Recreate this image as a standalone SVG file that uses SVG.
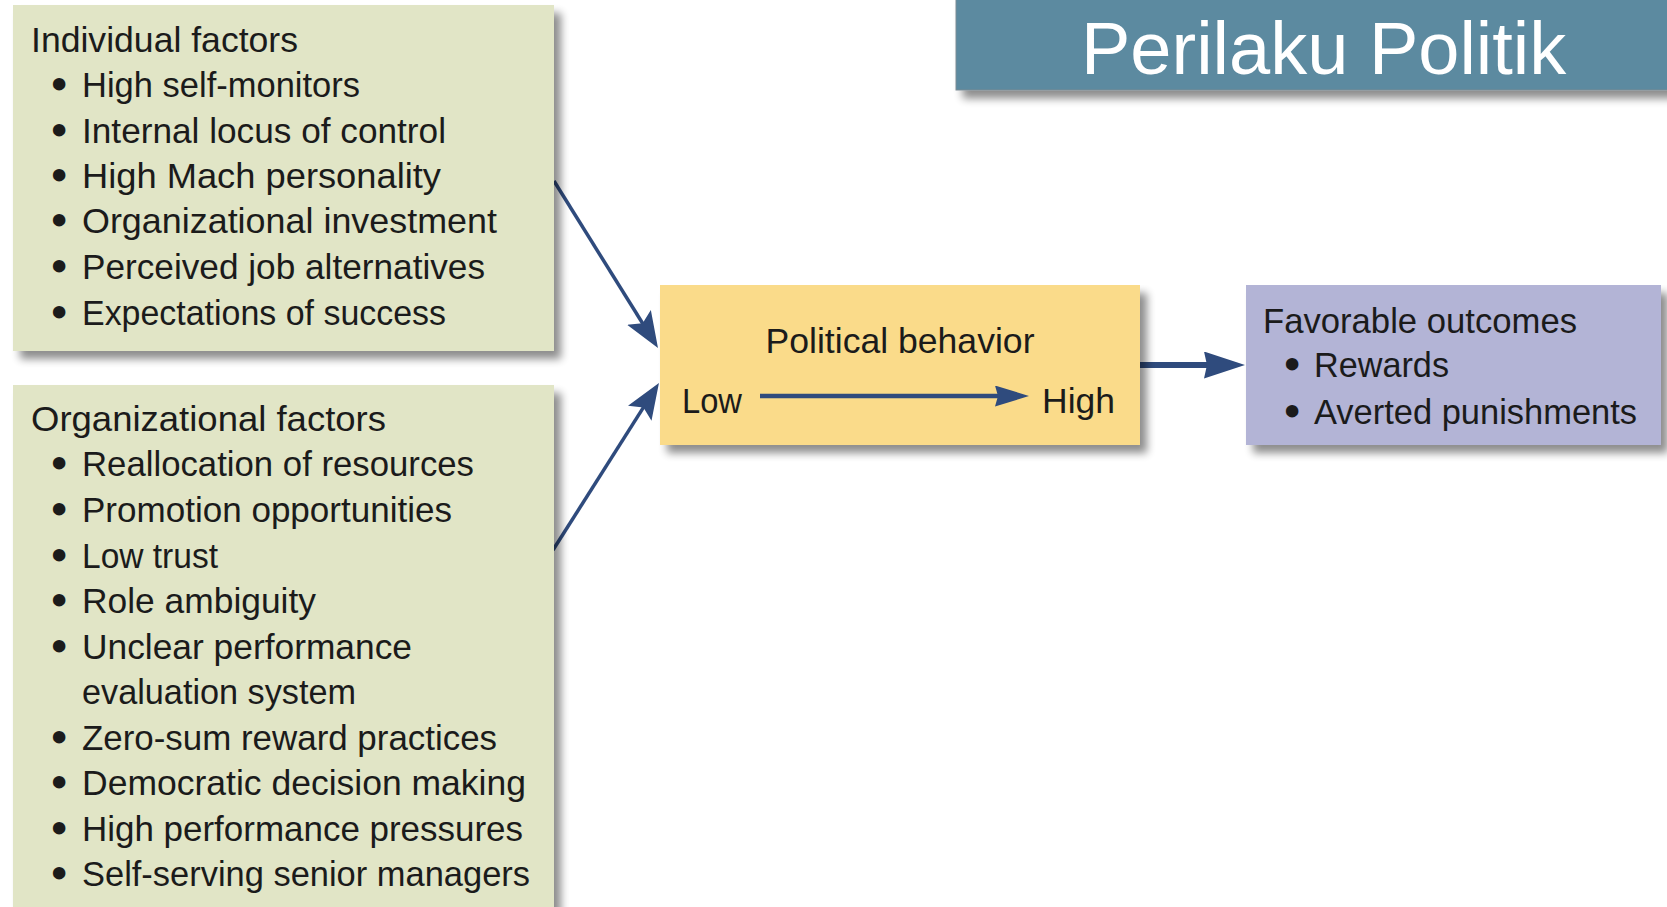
<svg xmlns="http://www.w3.org/2000/svg" width="1667" height="907" viewBox="0 0 1667 907">
  <style>
    .lbl { font-family: "Liberation Sans", Arial, sans-serif; font-size: 35px; fill: #1b1b1b; }
    .dot { font-family: "Liberation Sans", Arial, sans-serif; font-size: 35px; fill: #1b1b1b; stroke: #1b1b1b; stroke-width: 3; stroke-linejoin: round; }
    .title { font-family: "Liberation Sans", Arial, sans-serif; font-size: 74px; fill: #ffffff; }
    .factor { fill: #E1E5C6; }
    .behav { fill: #FADB8A; }
    .outcome { fill: #B3B4D6; }
    .link { stroke: #2F4B7D; fill: none; }
  </style>
  <defs>
    <filter id="shadow" x="-5%" y="-5%" width="115%" height="125%">
      <feGaussianBlur in="SourceAlpha" stdDeviation="4"/>
      <feOffset dx="7" dy="8"/>
      <feComponentTransfer><feFuncA type="linear" slope="0.45"/></feComponentTransfer>
      <feMerge><feMergeNode/><feMergeNode in="SourceGraphic"/></feMerge>
    </filter>
    <marker id="headIn" viewBox="0 0 36 28" refX="26" refY="14" markerWidth="36" markerHeight="28" markerUnits="userSpaceOnUse" orient="auto">
      <path d="M0,0 L36,14 L0,28 L7,14 Z" fill="#2F4B7D"/>
    </marker>
    <marker id="headOut" viewBox="0 0 41 27" refX="31" refY="13.5" markerWidth="41" markerHeight="27" markerUnits="userSpaceOnUse" orient="auto">
      <path d="M0,0 L41,13.5 L0,27 L3,13.5 Z" fill="#2F4B7D"/>
    </marker>
    <marker id="headScale" viewBox="0 0 34 21" refX="24" refY="10.5" markerWidth="34" markerHeight="21" markerUnits="userSpaceOnUse" orient="auto">
      <path d="M0,0 L34,10.5 L0,21 L3,10.5 Z" fill="#2F4B7D"/>
    </marker>
  </defs>

  <rect width="1667" height="907" fill="#ffffff"/>

  <!-- heading banner -->
  <g id="banner">
    <rect x="956" y="-5" width="720" height="95" fill="#5B8AA0" stroke="#7d8b93" stroke-width="1" filter="url(#shadow)"/>
    <text class="title" x="1081" y="74">Perilaku Politik</text>
  </g>

  <!-- connectors -->
  <g id="connectors">
    <line class="link" x1="554" y1="181" x2="652.7" y2="339.5" stroke-width="3.5" marker-end="url(#headIn)"/>
    <line class="link" x1="553" y1="550" x2="653.6" y2="391.4" stroke-width="3.5" marker-end="url(#headIn)"/>
    <line class="link" x1="1140" y1="365" x2="1235" y2="365" stroke-width="6" marker-end="url(#headOut)"/>
  </g>

  <!-- bullet lists: dot glyph at x=53, item text at x=82 -->
  <g id="individual-factors">
    <rect class="factor" x="13" y="5" width="541" height="346" filter="url(#shadow)"/>
    <text class="lbl" x="31" y="52" textLength="267" lengthAdjust="spacingAndGlyphs">Individual factors</text>
    <text class="dot" x="53" y="96">•</text>
    <text class="lbl" x="82" y="97" textLength="278" lengthAdjust="spacingAndGlyphs">High self-monitors</text>
    <text class="dot" x="53" y="142">•</text>
    <text class="lbl" x="82" y="143" textLength="364" lengthAdjust="spacingAndGlyphs">Internal locus of control</text>
    <text class="dot" x="53" y="187">•</text>
    <text class="lbl" x="82" y="188" textLength="359" lengthAdjust="spacingAndGlyphs">High Mach personality</text>
    <text class="dot" x="53" y="232">•</text>
    <text class="lbl" x="82" y="233" textLength="415" lengthAdjust="spacingAndGlyphs">Organizational investment</text>
    <text class="dot" x="53" y="278">•</text>
    <text class="lbl" x="82" y="279" textLength="403" lengthAdjust="spacingAndGlyphs">Perceived job alternatives</text>
    <text class="dot" x="53" y="324">•</text>
    <text class="lbl" x="82" y="325" textLength="364" lengthAdjust="spacingAndGlyphs">Expectations of success</text>
  </g>

  <g id="organizational-factors">
    <rect class="factor" x="13" y="385" width="541" height="540" filter="url(#shadow)"/>
    <text class="lbl" x="31" y="431" textLength="355" lengthAdjust="spacingAndGlyphs">Organizational factors</text>
    <text class="dot" x="53" y="475">•</text>
    <text class="lbl" x="82" y="476" textLength="392" lengthAdjust="spacingAndGlyphs">Reallocation of resources</text>
    <text class="dot" x="53" y="521">•</text>
    <text class="lbl" x="82" y="522" textLength="370" lengthAdjust="spacingAndGlyphs">Promotion opportunities</text>
    <text class="dot" x="53" y="567">•</text>
    <text class="lbl" x="82" y="568" textLength="136" lengthAdjust="spacingAndGlyphs">Low trust</text>
    <text class="dot" x="53" y="612">•</text>
    <text class="lbl" x="82" y="613" textLength="234" lengthAdjust="spacingAndGlyphs">Role ambiguity</text>
    <text class="dot" x="53" y="658">•</text>
    <text class="lbl" x="82" y="659" textLength="330" lengthAdjust="spacingAndGlyphs">Unclear performance</text>
    <text class="lbl" x="82" y="704" textLength="274" lengthAdjust="spacingAndGlyphs">evaluation system</text>
    <text class="dot" x="53" y="749">•</text>
    <text class="lbl" x="82" y="750" textLength="415" lengthAdjust="spacingAndGlyphs">Zero-sum reward practices</text>
    <text class="dot" x="53" y="794">•</text>
    <text class="lbl" x="82" y="795" textLength="444" lengthAdjust="spacingAndGlyphs">Democratic decision making</text>
    <text class="dot" x="53" y="840">•</text>
    <text class="lbl" x="82" y="841" textLength="441" lengthAdjust="spacingAndGlyphs">High performance pressures</text>
    <text class="dot" x="53" y="885">•</text>
    <text class="lbl" x="82" y="886" textLength="448" lengthAdjust="spacingAndGlyphs">Self-serving senior managers</text>
  </g>

  <g id="political-behavior">
    <rect class="behav" x="660" y="285" width="480" height="160" filter="url(#shadow)"/>
    <text class="lbl" x="765.5" y="353" textLength="269" lengthAdjust="spacingAndGlyphs">Political behavior</text>
    <text class="lbl" x="682" y="413" textLength="60" lengthAdjust="spacingAndGlyphs">Low</text>
    <line class="link" x1="760" y1="396" x2="1019" y2="396" stroke-width="4.5" marker-end="url(#headScale)"/>
    <text class="lbl" x="1042" y="413" textLength="73" lengthAdjust="spacingAndGlyphs">High</text>
  </g>

  <g id="favorable-outcomes">
    <rect class="outcome" x="1246" y="285" width="415" height="160" filter="url(#shadow)"/>
    <text class="lbl" x="1263" y="333" textLength="314" lengthAdjust="spacingAndGlyphs">Favorable outcomes</text>
    <text class="dot" x="1286" y="376">•</text>
    <text class="lbl" x="1314" y="377" textLength="135" lengthAdjust="spacingAndGlyphs">Rewards</text>
    <text class="dot" x="1286" y="423">•</text>
    <text class="lbl" x="1314" y="424" textLength="323" lengthAdjust="spacingAndGlyphs">Averted punishments</text>
  </g>
</svg>
